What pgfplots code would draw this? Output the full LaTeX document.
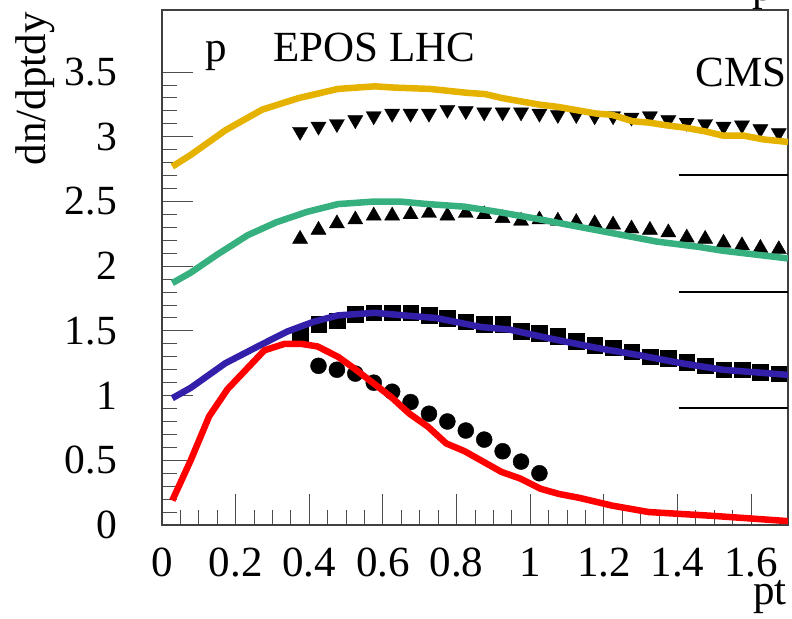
\documentclass[border=0pt]{standalone}
\usepackage{fontspec}
\setmainfont{Liberation Serif}
\newfontfamily\timesfont{Liberation Serif}
\usepackage{pgfplots}
\pgfplotsset{compat=1.18}

\definecolor{eposyellow}{RGB}{230,178,0}
\definecolor{eposgreen}{RGB}{55,176,128}
\definecolor{eposblue}{RGB}{51,32,170}
\definecolor{eposred}{RGB}{255,0,0}

\newcommand{\bigfont}{\timesfont\fontsize{43bp}{50bp}\selectfont}

\begin{document}
\begin{tikzpicture}
\begin{axis}[
    scale only axis, width=626bp, height=515bp,
    xmin=0, xmax=1.7, ymin=0, ymax=3.98,
    xtick={0,0.2,0.4,0.6,0.8,1,1.2,1.4,1.6},
    ytick={0,0.5,1,1.5,2,2.5,3,3.5},
    minor x tick num=3, minor y tick num=4,
    tick pos=left, tick align=inside,
    major tick length=31bp, minor tick length=15bp,
    tick style={black!70, line width=1bp},
    axis line style={black!75, line width=1.3bp},
    clip marker paths=true,
    /pgf/number format/assume math mode=true,
    xticklabel style={font=\timesfont\fontsize{43bp}{48bp}\selectfont,
                      anchor=north, inner sep=0pt, yshift=-23bp},
    yticklabel style={font=\timesfont\fontsize{41.5bp}{46bp}\selectfont,
                      anchor=east, inner sep=0pt, xshift=-45bp},
  ]
  % CMS data
  \addplot[only marks, mark=triangle*, mark size=8.7bp,
           mark options={rotate=180, fill=black, draw=black}]
    coordinates {
      (0.375,3.04) (0.425,3.08) (0.475,3.10) (0.525,3.13) (0.575,3.16)
      (0.625,3.18) (0.675,3.18) (0.725,3.18) (0.775,3.21) (0.825,3.20)
      (0.875,3.19) (0.925,3.19) (0.975,3.19) (1.025,3.18) (1.075,3.17)
      (1.125,3.17) (1.175,3.16) (1.225,3.16) (1.275,3.15) (1.325,3.16)
      (1.375,3.13) (1.425,3.11) (1.475,3.10) (1.525,3.08) (1.575,3.09)
      (1.625,3.06) (1.675,3.03)};
  \addplot[only marks, mark=triangle*, mark size=8.7bp,
           mark options={fill=black, draw=black}]
    coordinates {
      (0.375,2.21) (0.425,2.28) (0.475,2.33) (0.525,2.36) (0.575,2.39)
      (0.625,2.39) (0.675,2.40) (0.725,2.41) (0.775,2.39) (0.825,2.41)
      (0.875,2.40) (0.925,2.37) (0.975,2.35) (1.025,2.36) (1.075,2.35)
      (1.125,2.34) (1.175,2.33) (1.225,2.32) (1.275,2.29) (1.325,2.28)
      (1.375,2.26) (1.425,2.22) (1.475,2.21) (1.525,2.18) (1.575,2.16)
      (1.625,2.14) (1.675,2.13)};
  \addplot[only marks, mark=square*, mark size=7.8bp,
           mark options={fill=black, draw=black}]
    coordinates {
      (0.375,1.47) (0.425,1.55) (0.475,1.58) (0.525,1.63) (0.575,1.64)
      (0.625,1.64) (0.675,1.64) (0.725,1.62) (0.775,1.60) (0.825,1.57)
      (0.875,1.55) (0.925,1.55) (0.975,1.50) (1.025,1.48) (1.075,1.46)
      (1.125,1.42) (1.175,1.39) (1.225,1.37) (1.275,1.34) (1.325,1.30)
      (1.375,1.29) (1.425,1.26) (1.475,1.23) (1.525,1.20) (1.575,1.20)
      (1.625,1.18) (1.675,1.17)};
  \addplot[only marks, mark=*, mark size=8bp,
           mark options={fill=black, draw=black}]
    coordinates {
      (0.425,1.23) (0.475,1.20) (0.525,1.17) (0.575,1.10) (0.625,1.03)
      (0.675,0.95) (0.725,0.86) (0.775,0.80) (0.825,0.73) (0.875,0.66)
      (0.925,0.57) (0.975,0.49) (1.025,0.40)};
  % EPOS LHC curves
  \addplot[eposyellow, line width=6.5bp, line join=round, no marks]
    coordinates {
      (0.028,2.77) (0.078,2.86) (0.172,3.05) (0.272,3.21) (0.372,3.30)
      (0.478,3.37) (0.578,3.39) (0.633,3.38) (0.728,3.37) (0.828,3.34)
      (0.878,3.33) (0.922,3.30) (1.022,3.25) (1.078,3.23) (1.178,3.18)
      (1.222,3.17) (1.278,3.12) (1.322,3.11) (1.367,3.09) (1.422,3.07)
      (1.478,3.04) (1.522,3.01) (1.578,3.01) (1.633,2.98) (1.700,2.96)};
  \addplot[eposgreen, line width=6.5bp, line join=round, no marks]
    coordinates {
      (0.028,1.87) (0.078,1.95) (0.150,2.09) (0.233,2.24) (0.311,2.34)
      (0.394,2.42) (0.478,2.48) (0.578,2.50) (0.644,2.50) (0.722,2.48)
      (0.822,2.46) (0.911,2.42) (1.011,2.37) (1.122,2.31) (1.233,2.25)
      (1.344,2.19) (1.456,2.15) (1.522,2.12) (1.611,2.09) (1.700,2.06)};
  \addplot[eposblue, line width=6.5bp, line join=round, no marks]
    coordinates {
      (0.028,0.98) (0.078,1.06) (0.172,1.25) (0.267,1.39) (0.340,1.495)
      (0.411,1.57) (0.478,1.62) (0.578,1.64) (0.656,1.62) (0.744,1.60)
      (0.867,1.53) (0.944,1.51) (1.056,1.44) (1.178,1.37) (1.300,1.31)
      (1.411,1.25) (1.522,1.20) (1.611,1.18) (1.700,1.16)};
  \addplot[eposred, line width=6.5bp, line join=round, no marks]
    coordinates {
      (0.028,0.19) (0.078,0.50) (0.128,0.84) (0.178,1.05) (0.228,1.20)
      (0.278,1.35) (0.333,1.40) (0.378,1.40) (0.422,1.38) (0.478,1.30)
      (0.522,1.21) (0.572,1.10) (0.622,0.99) (0.672,0.86) (0.722,0.76)
      (0.772,0.63) (0.822,0.57) (0.872,0.49) (0.922,0.41) (0.972,0.36)
      (1.028,0.28) (1.078,0.24) (1.133,0.21) (1.222,0.15) (1.322,0.10)
      (1.411,0.085) (1.500,0.07) (1.600,0.05) (1.700,0.03)};
  % short reference lines at the right
  \addplot[black, line width=2bp, no marks] coordinates {(1.403,2.705) (1.7,2.705)};
  \addplot[black, line width=2bp, no marks] coordinates {(1.403,1.80) (1.7,1.80)};
  \addplot[black, line width=2bp, no marks] coordinates {(1.403,0.904) (1.7,0.904)};
\end{axis}
% texts (1bp = 1 pixel of the reference; origin at lower-left of the frame)
\node[anchor=base west, inner sep=0pt, font=\bigfont] at (43bp,463bp) {p};
\node[anchor=base west, inner sep=0pt, font=\bigfont] at (111bp,463bp) {EPOS LHC};
\node[anchor=base east, inner sep=0pt, font=\bigfont] at (625bp,438bp) {CMS};
\node[anchor=base west, inner sep=0pt, font=\bigfont] at (590bp,524bp) {p};
\node[anchor=base east, inner sep=0pt, font=\bigfont] at (625bp,-79bp) {pt};
\node[anchor=base east, inner sep=0pt, rotate=90, font=\bigfont]
  at (-116bp,513bp) {dn/dptdy};
\pgfresetboundingbox
\path[use as bounding box] (-162bp,-94bp) rectangle (630bp,525bp);
\end{tikzpicture}
\end{document}
